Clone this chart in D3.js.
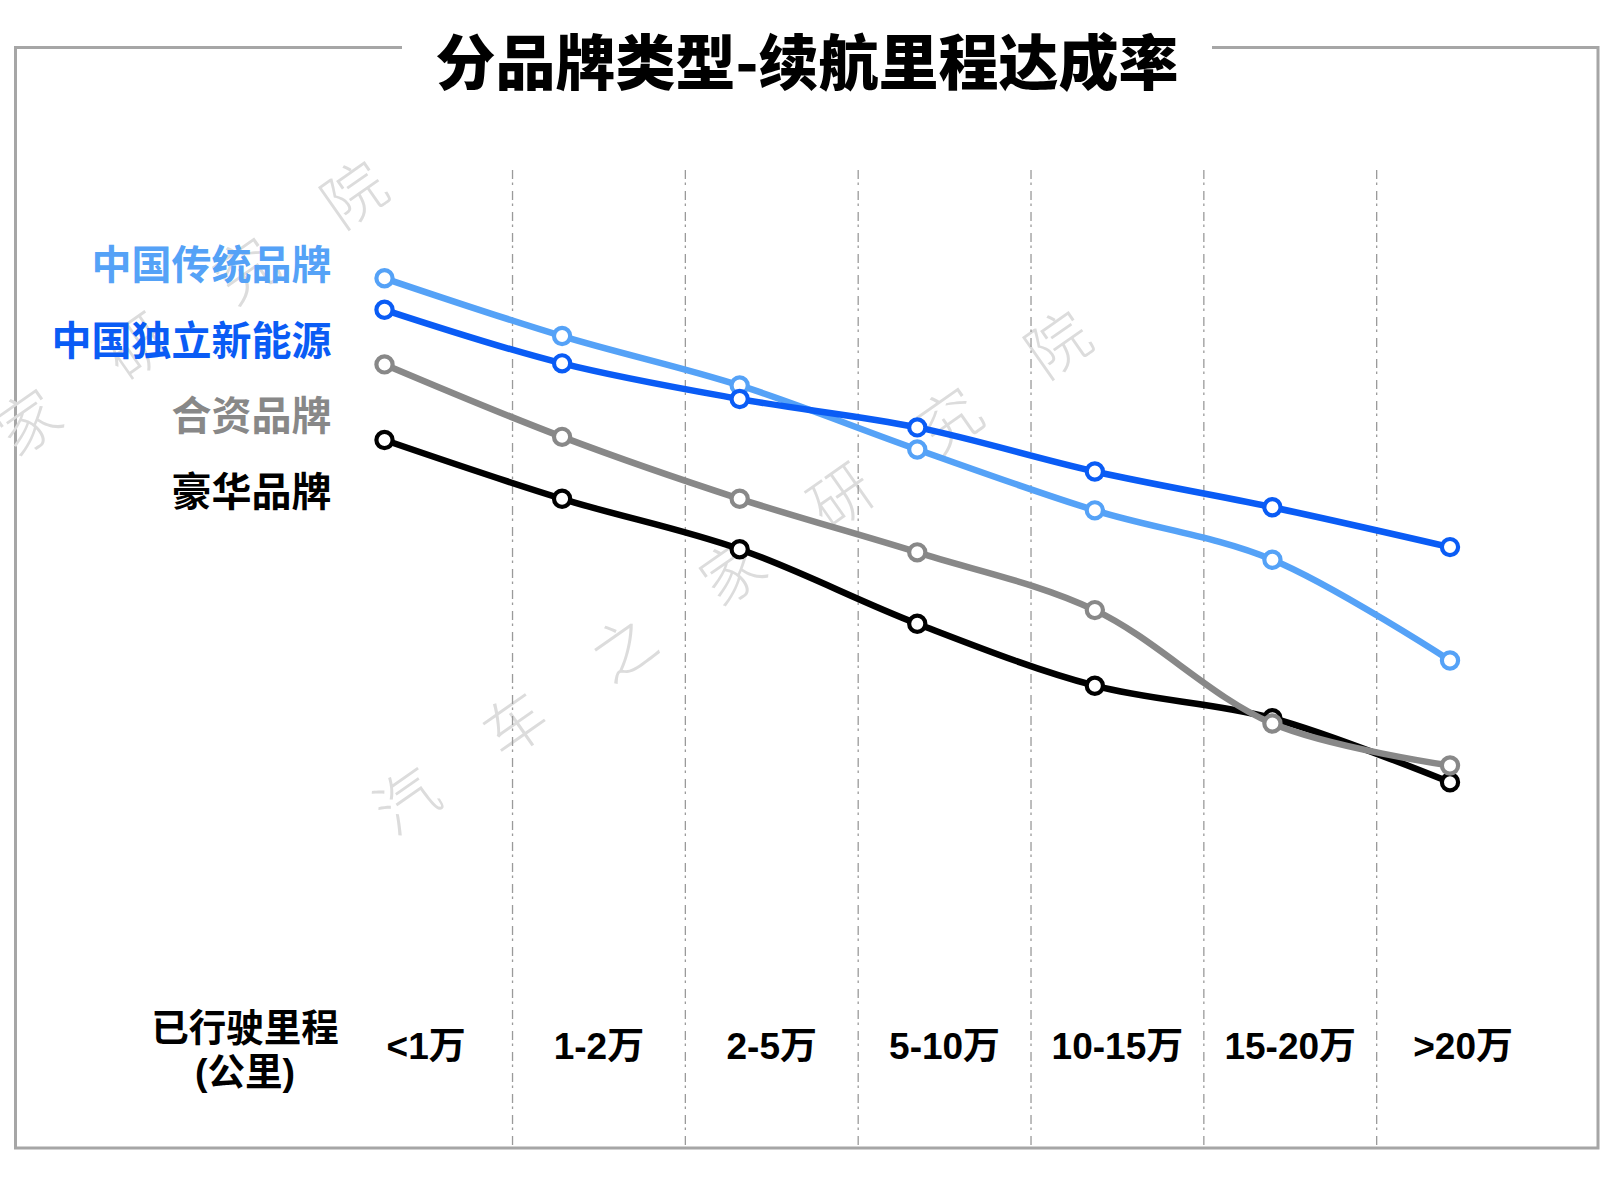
<!DOCTYPE html>
<html>
<head>
<meta charset="utf-8">
<script src="https://cdn.jsdelivr.net/npm/d3@7"></script>
<style>
  body { margin: 0; background: #fff; }
  svg { display: block; font-family: "Liberation Sans", Arial, "Noto Sans CJK SC", sans-serif; }
</style>
</head>
<body>
<svg id="chart" width="1624" height="1187"></svg>
<script>
// mileage bands (x axis)
const categories = ["<1万", "1-2万", "2-5万", "5-10万", "10-15万", "15-20万", ">20万"];

// brand groups, legend order
const seriesNames = ["中国传统品牌", "中国独立新能源", "合资品牌", "豪华品牌"];
const seriesColors = ["#55a2f7", "#0a5cf5", "#888888", "#000000"];

// achievement rate (%), no axis in the original, read off the line heights
const chinaTraditional = [90.0, 84.5, 79.8, 73.7, 67.9, 63.2, 53.6];
const chinaNewEnergy   = [87.0, 81.9, 78.5, 75.8, 71.6, 68.2, 64.4];
const jointVenture     = [81.8, 74.9, 69.0, 63.9, 58.4, 47.6, 43.6];
const luxury           = [74.6, 69.0, 64.2, 57.1, 51.2, 48.1, 42.0];

const seriesValues = [chinaTraditional, chinaNewEnergy, jointVenture, luxury];

const title = "分品牌类型-续航里程达成率";
const watermark = "汽车之家研究院";

const W = 1624, H = 1187;
const svg = d3.select("#chart");

svg.append("rect").attr("width", W).attr("height", H).attr("fill", "#fff");

// frame with gap for the title
const frame = { left: 15.5, right: 1598, top: 47.5, bottom: 1148 };
svg.append("path")
  .attr("d", `M402,${frame.top}H${frame.left}V${frame.bottom}H${frame.right}V${frame.top}H1212`)
  .attr("stroke", "#a6a6a6").attr("stroke-width", 3).attr("fill", "none");

// watermark: one full copy, one running off the left edge
const wm = svg.append("g").attr("fill", "#dcdcdc").attr("font-family", "Noto Sans CJK SC")
  .attr("font-size", 62).attr("font-weight", 300);
const step = 132.6, ang = -35;
[[404, 797, 0], [-300, 647, 3]].forEach(([x, y, from]) => {
  wm.append("text")
    .attr("transform", `translate(${x},${y}) rotate(${ang})`)
    .attr("text-anchor", "middle")
    .attr("dominant-baseline", "central")
    .selectAll("tspan")
    .data(watermark.split("").map((c, i) => ({ c, i })).slice(from))
    .join("tspan")
    .attr("x", d => d.i * step)
    .attr("y", 0)
    .text(d => d.c);
});

// title
svg.append("text")
  .attr("x", 807).attr("y", 58)
  .attr("text-anchor", "middle")
  .attr("dominant-baseline", "central")
  .attr("font-family", "Noto Sans CJK SC")
  .attr("font-size", 60)
  .attr("font-weight", 900)
  .attr("fill", "#000")
  .text(title);

// scales
const xBand = d3.scaleBand().domain(categories).range([339.7, 1549.5]);
const xPoint = d3.scalePoint().domain(categories).range([384.5, 1450]);
const y = d3.scaleLinear().domain([30, 100]).range([908.3, 173.3]);

// dashed separators between bands
svg.append("g")
  .selectAll("line")
  .data(categories.slice(1))
  .join("line")
  .attr("x1", d => xBand(d)).attr("x2", d => xBand(d))
  .attr("y1", 170).attr("y2", frame.bottom - 1.5)
  .attr("stroke", "#9a9a9a")
  .attr("stroke-width", 1.3)
  .attr("stroke-dasharray", "9,3.5,2.5,6");

// category labels
const xAxis = svg.append("g")
  .attr("transform", "translate(0,1046)")
  .call(d3.axisBottom(xBand).tickSize(0).tickPadding(0));
xAxis.select(".domain").remove();
xAxis.selectAll("text")
  .attr("y", 0).attr("dy", "0.35em")
  .attr("font-family", "Liberation Sans, Noto Sans CJK SC")
  .attr("font-size", 37)
  .attr("font-weight", "bold")
  .attr("fill", "#000");

// axis title
const axisTitle = svg.append("text")
  .attr("text-anchor", "middle")
  .attr("font-family", "Liberation Sans, Noto Sans CJK SC")
  .attr("font-size", 37.5)
  .attr("font-weight", "bold")
  .attr("fill", "#000");
axisTitle.append("tspan").attr("x", 245).attr("y", 1028).attr("dy", "0.35em").text("已行驶里程");
axisTitle.append("tspan").attr("x", 245).attr("y", 1072).attr("dy", "0.35em").text("(公里)");

// lines, drawn bottom series first
const line = d3.line()
  .x((d, i) => xPoint(categories[i]))
  .y(d => y(d))
  .curve(d3.curveCatmullRom.alpha(0.5));

const order = [3, 2, 0, 1];
order.forEach(s => {
  const g = svg.append("g");
  g.append("path")
    .attr("d", line(seriesValues[s]))
    .attr("fill", "none")
    .attr("stroke", seriesColors[s])
    .attr("stroke-width", 6.5)
    .attr("stroke-linejoin", "round");
  g.selectAll("circle")
    .data(seriesValues[s])
    .join("circle")
    .attr("cx", (d, i) => xPoint(categories[i]))
    .attr("cy", d => y(d))
    .attr("r", 8.1)
    .attr("fill", "#fff")
    .attr("stroke", seriesColors[s])
    .attr("stroke-width", 4.2);
});

// legend labels on the left
svg.append("g")
  .selectAll("text")
  .data(seriesNames)
  .join("text")
  .attr("x", 331.5)
  .attr("y", (d, i) => 262 + i * 75.7)
  .attr("text-anchor", "end")
  .attr("dominant-baseline", "central")
  .attr("font-family", "Noto Sans CJK SC")
  .attr("font-size", 40)
  .attr("font-weight", 700)
  .attr("fill", (d, i) => seriesColors[i])
  .text(d => d);
</script>
</body>
</html>
